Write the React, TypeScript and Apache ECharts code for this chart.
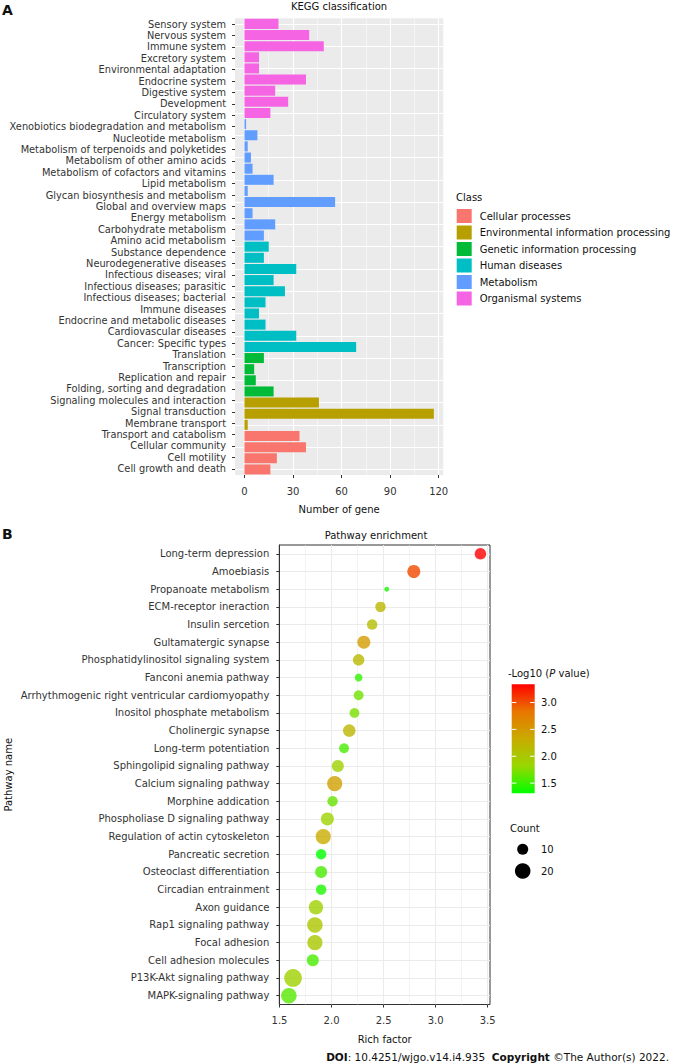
import React, { useEffect, useRef } from "react";
import * as echarts from "echarts";

// ---------------- Panel A: KEGG classification ----------------
const keggLabels = [
  "Sensory system", "Nervous system", "Immune system", "Excretory system",
  "Environmental adaptation", "Endocrine system", "Digestive system", "Development",
  "Circulatory system", "Xenobiotics biodegradation and metabolism", "Nucleotide metabolism",
  "Metabolism of terpenoids and polyketides", "Metabolism of other amino acids",
  "Metabolism of cofactors and vitamins", "Lipid metabolism", "Glycan biosynthesis and metabolism",
  "Global and overview maps", "Energy metabolism", "Carbohydrate metabolism", "Amino acid metabolism",
  "Substance dependence", "Neurodegenerative diseases", "Infectious diseases; viral",
  "Infectious diseases; parasitic", "Infectious diseases; bacterial", "Immune diseases",
  "Endocrine and metabolic diseases", "Cardiovascular diseases", "Cancer: Specific types",
  "Translation", "Transcription", "Replication and repair", "Folding, sorting and degradation",
  "Signaling molecules and interaction", "Signal transduction", "Membrane transport",
  "Transport and catabolism", "Cellular community", "Cell motility", "Cell growth and death",
];
// bars as drawn, top to bottom
const geneCounts = [
  21, 40, 49, 9, 9, 38, 19, 27, 16,
  1, 8, 2, 4, 5, 18, 2, 56, 5, 19, 12,
  15, 12, 32, 18, 25, 13, 9, 13, 32, 69,
  12, 6, 7, 18,
  46, 117, 2,
  34, 38, 20, 16,
];
const barClass = [
  5, 5, 5, 5, 5, 5, 5, 5, 5,
  4, 4, 4, 4, 4, 4, 4, 4, 4, 4, 4,
  3, 3, 3, 3, 3, 3, 3, 3, 3, 3,
  2, 2, 2, 2,
  1, 1, 1,
  0, 0, 0, 0,
];
const classNames = [
  "Cellular processes", "Environmental information processing", "Genetic information processing",
  "Human diseases", "Metabolism", "Organismal systems",
];
const classColors = ["#F8766D", "#B79F00", "#00BA38", "#00BFC4", "#619CFF", "#F564E3"];
const geneTicks = [0, 30, 60, 90, 120];
const geneMinorTicks = [15, 45, 75, 105];

// ---------------- Panel B: Pathway enrichment ----------------
const enrichPathways = [
  "Long-term depression", "Amoebiasis", "Propanoate metabolism", "ECM-receptor ineraction",
  "Insulin sercetion", "Gultamatergic synapse", "Phosphatidylinositol signaling system",
  "Fanconi anemia pathway", "Arrhythmogenic right ventricular cardiomyopathy",
  "Inositol phosphate metabolism", "Cholinergic synapse", "Long-term potentiation",
  "Sphingolipid signaling pathway", "Calcium signaling pathway", "Morphine addication",
  "Phospholiase D signaling pathway", "Regulation of actin cytoskeleton", "Pancreatic secretion",
  "Osteoclast differentiation", "Circadian entrainment", "Axon guidance", "Rap1 signaling pathway",
  "Focal adhesion", "Cell adhesion molecules", "P13K-Akt signaling pathway", "MAPK-signaling pathway",
];
const richFactor = [
  3.43, 2.79, 2.53, 2.47, 2.39, 2.31, 2.26, 2.26, 2.26, 2.22, 2.17, 2.12, 2.06,
  2.03, 2.01, 1.96, 1.92, 1.9, 1.9, 1.9, 1.85, 1.84, 1.84, 1.82, 1.63, 1.59,
];
const pathwayCount = [
  11, 14, 2, 9, 9, 14, 11, 5, 8, 8, 13, 8, 12,
  19, 9, 14, 19, 9, 12, 9, 17, 20, 19, 12, 26, 20,
];
const negLogP = [
  3.34, 3.03, 1.4, 2.2, 2.12, 2.47, 2.16, 1.47, 1.68, 1.72, 2.2, 1.55, 1.88,
  2.43, 1.65, 1.86, 2.32, 1.31, 1.55, 1.41, 1.88, 2.02, 2.0, 1.55, 1.9, 1.6,
];
const richTicks = [1.5, 2.0, 2.5, 3.0, 3.5];
const richMinorTicks = [1.75, 2.25, 2.75, 3.25];
const colorTicks = [1.5, 2.0, 2.5, 3.0];
const countLegend = [10, 20];
const gradientColors = ["#00FF00", "#98D700", "#C9AB00", "#E87600", "#FF0000"];

const FONT = "DejaVu Sans";
const AXIS_TEXT = "#333333";
const TXT = "#111111";
const FS = 10;
const sizeOf = (c: number) => 3.48 * Math.sqrt(c);

function buildOption() {
  const cbMin = Math.min(...negLogP);
  const cbMax = Math.max(...negLogP);
  const cbX = 511.7, cbY = 684.3, cbW = 23, cbH = 109;
  const cbYOf = (v: number) => cbY + cbH - ((v - cbMin) / (cbMax - cbMin)) * cbH;
  const stops = gradientColors.map((c, i) => ({ offset: i / (gradientColors.length - 1), color: c }));

  const graphics: any[] = [
    { type: "text", x: 2, y: 10, style: { text: "A", font: `bold 14px ${FONT}`, fill: TXT, verticalAlign: "middle" } },
    { type: "text", x: 2, y: 533.5, style: { text: "B", font: `bold 14px ${FONT}`, fill: TXT, verticalAlign: "middle" } },
    { type: "text", x: 339, y: 6.5, style: { text: "KEGG classification", fontFamily: FONT, fontSize: FS, fill: TXT, align: "center", verticalAlign: "middle" } },
    { type: "text", x: 376, y: 535, style: { text: "Pathway enrichment", fontFamily: FONT, fontSize: FS, fill: TXT, align: "center", verticalAlign: "middle" } },
    { type: "text", x: 456, y: 197, style: { text: "Class", fontFamily: FONT, fontSize: FS, fill: TXT, verticalAlign: "middle" } },
    {
      type: "text", x: 508, y: 673,
      style: {
        text: "-Log10 ({i|P} value)", fontFamily: FONT, fontSize: FS, fill: TXT, verticalAlign: "middle",
        rich: { i: { fontStyle: "italic", fontFamily: FONT, fontSize: FS, fill: TXT } },
      },
    },
    {
      type: "rect", shape: { x: cbX, y: cbY, width: cbW, height: cbH },
      style: { fill: new echarts.graphic.LinearGradient(0, 1, 0, 0, stops) },
    },
    { type: "text", x: 510, y: 828, style: { text: "Count", fontFamily: FONT, fontSize: FS, fill: TXT, verticalAlign: "middle" } },
    {
      type: "text", x: 669, y: 1057,
      style: {
        text: "{b|DOI}: 10.4251/wjgo.v14.i4.935  {b|Copyright} ©The Author(s) 2022.",
        fontFamily: FONT, fontSize: 10.5, fill: TXT, align: "right", verticalAlign: "middle",
        rich: { b: { fontWeight: "bold", fontFamily: FONT, fontSize: 10.5, fill: TXT } },
      },
    },
  ];
  colorTicks.forEach((v) => {
    const y = cbYOf(v);
    graphics.push({ type: "line", shape: { x1: cbX, y1: y, x2: cbX + 4.6, y2: y }, style: { stroke: "#fff", lineWidth: 1 } });
    graphics.push({ type: "line", shape: { x1: cbX + cbW - 4.6, y1: y, x2: cbX + cbW, y2: y }, style: { stroke: "#fff", lineWidth: 1 } });
    graphics.push({ type: "text", x: 541, y, style: { text: v.toFixed(1), fontFamily: FONT, fontSize: FS, fill: TXT, verticalAlign: "middle" } });
  });
  countLegend.forEach((c, i) => {
    const y = [849.3, 871][i];
    graphics.push({ type: "circle", shape: { cx: 522.7, cy: y, r: sizeOf(c) / 2 }, style: { fill: "#000" } });
    graphics.push({ type: "text", x: 541, y, style: { text: String(c), fontFamily: FONT, fontSize: FS, fill: TXT, verticalAlign: "middle" } });
  });

  const barSeries = classNames.map((name, c) => ({
    name,
    type: "bar",
    xAxisIndex: 0,
    yAxisIndex: 0,
    stack: "genes",
    barCategoryGap: "10%",
    itemStyle: { color: classColors[c] },
    data: geneCounts.map((v, i) => (barClass[i] === c ? v : "-")),
    z: 3,
  }));

  return {
    animation: false,
    backgroundColor: "#ffffff",
    textStyle: { fontFamily: FONT },
    legend: {
      data: classNames,
      orient: "vertical",
      left: 456.7,
      top: 209,
      padding: 0,
      itemWidth: 15,
      itemHeight: 14,
      itemGap: 2.5,
      icon: "rect",
      selectedMode: false,
      textStyle: { fontFamily: FONT, fontSize: FS, color: TXT, padding: [0, 0, 0, 3] },
    },
    grid: [
      { left: 235, top: 18.3, width: 208.3, height: 456.7, show: true, backgroundColor: "#EBEBEB", borderWidth: 0 },
      { left: 235, top: 24, width: 208.3, height: 444.8, show: false },
      { left: 279.3, top: 545, width: 210.7, height: 459.5, show: true, backgroundColor: "#ffffff", borderColor: "#333333", borderWidth: 1 },
    ],
    xAxis: [
      {
        gridIndex: 0, type: "value", min: -5.85, max: 122.85, z: 1,
        axisLine: { show: false },
        axisTick: { show: true, length: 3, customValues: geneTicks, lineStyle: { color: "#333" } },
        axisLabel: { customValues: geneTicks, fontSize: FS, color: AXIS_TEXT, margin: 11.5, fontFamily: FONT },
        splitLine: { show: true, lineStyle: { color: "#ffffff", width: 1.1 } },
        name: "Number of gene", nameLocation: "middle", nameGap: 29.5,
        nameTextStyle: { fontSize: FS, color: TXT, fontFamily: FONT },
      },
      {
        gridIndex: 0, type: "value", min: -5.85, max: 122.85, position: "top", z: 1,
        axisLine: { show: false },
        axisTick: { show: false, customValues: geneMinorTicks },
        axisLabel: { show: false, customValues: geneMinorTicks },
        splitLine: { show: true, lineStyle: { color: "#ffffff", width: 0.5 } },
      },
      { gridIndex: 1, type: "value", show: false },
      {
        gridIndex: 2, type: "value", min: 1.498, max: 3.522, z: 1,
        axisLine: { show: false },
        axisTick: { show: true, length: 3, customValues: richTicks, lineStyle: { color: "#333" } },
        axisLabel: { customValues: richTicks, fontSize: FS, color: AXIS_TEXT, margin: 11, fontFamily: FONT, formatter: (v: number) => v.toFixed(1) },
        splitLine: { show: true, lineStyle: { color: "#EBEBEB", width: 1.1 } },
        name: "Rich factor", nameLocation: "middle", nameGap: 30,
        nameTextStyle: { fontSize: FS, color: TXT, fontFamily: FONT },
      },
      {
        gridIndex: 2, type: "value", min: 1.498, max: 3.522, position: "top", z: 1,
        axisLine: { show: false },
        axisTick: { show: false, customValues: richMinorTicks },
        axisLabel: { show: false, customValues: richMinorTicks },
        splitLine: { show: true, lineStyle: { color: "#EBEBEB", width: 0.6 } },
      },
    ],
    yAxis: [
      {
        gridIndex: 0, type: "category", inverse: true, boundaryGap: true, z: 1,
        data: geneCounts.map((_, i) => String(i)),
        axisLine: { show: false }, axisTick: { show: false }, axisLabel: { show: false },
        splitLine: { show: true, alignWithLabel: true, lineStyle: { color: "#ffffff", width: 1.1 } },
      },
      {
        gridIndex: 1, type: "category", inverse: true, boundaryGap: false,
        data: keggLabels,
        axisLine: { show: false },
        axisTick: { show: true, length: 3, lineStyle: { color: "#333" } },
        axisLabel: { fontSize: 9.8, color: AXIS_TEXT, margin: 9, fontFamily: FONT, interval: 0 },
        splitLine: { show: false },
      },
      {
        gridIndex: 2, type: "category", inverse: true, boundaryGap: true, z: 1,
        data: enrichPathways,
        axisLine: { show: true, lineStyle: { color: "#333", width: 1 } },
        axisTick: { show: true, alignWithLabel: true, length: 3, lineStyle: { color: "#333" } },
        axisLabel: { fontSize: FS, color: AXIS_TEXT, margin: 10, fontFamily: FONT, interval: 0 },
        splitLine: { show: true, alignWithLabel: true, lineStyle: { color: "#EBEBEB", width: 1.1 } },
        name: "Pathway name", nameLocation: "middle", nameGap: 266, nameRotate: 90,
        nameTextStyle: { fontSize: FS, color: TXT, fontFamily: FONT },
      },
    ],
    visualMap: {
      type: "continuous", show: false, seriesIndex: classNames.length, dimension: 3,
      min: Math.min(...negLogP), max: Math.max(...negLogP),
      inRange: { color: gradientColors },
    },
    graphic: graphics,
    series: [
      ...barSeries,
      {
        type: "scatter",
        xAxisIndex: 3,
        yAxisIndex: 2,
        z: 4,
        symbol: "circle",
        symbolSize: (d: number[]) => sizeOf(d[2]),
        data: enrichPathways.map((p, i) => [richFactor[i], p, pathwayCount[i], negLogP[i]]),
      },
    ],
  };
}

export default function App() {
  const ref = useRef<HTMLDivElement>(null);
  useEffect(() => {
    const chart = echarts.init(ref.current as HTMLDivElement, null, { renderer: "svg" });
    chart.setOption(buildOption() as any);
    return () => chart.dispose();
  }, []);
  return (
    <div
      ref={ref}
      style={{ position: "absolute", left: 0, top: 0, width: 673, height: 1064, background: "#fff" }}
    />
  );
}
